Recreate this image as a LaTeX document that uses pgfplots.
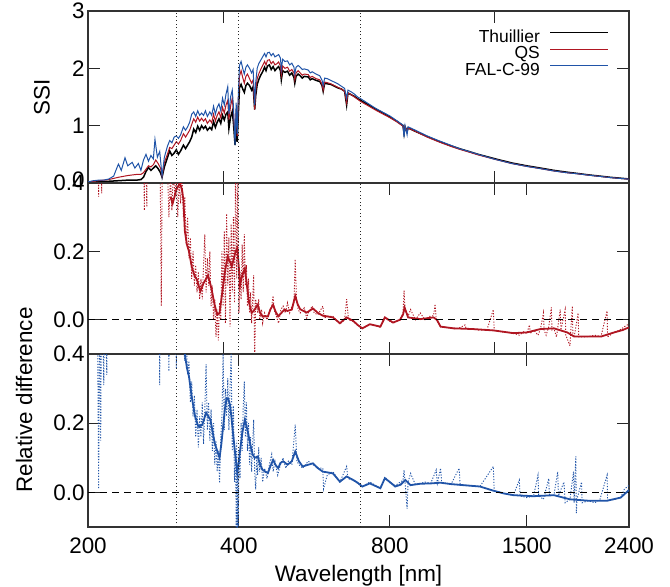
\documentclass[border=0pt]{standalone}
\usepackage{fontspec}
\setmainfont{Liberation Sans}
\usepackage{pgfplots}
\pgfplotsset{compat=1.18}
\usepackage{pgfplotstable}

\definecolor{qsred}{RGB}{176,22,34}
\definecolor{falblue}{RGB}{32,84,168}

% SSI spectra (wavelength in nm, SSI)
\pgfplotstableread{
nm ssi
200 0.01
210 0.02
220 0.03
230 0.04
240 0.05
250 0.05
255 0.06
258 0.10
261 0.20
264 0.27
267 0.22
270 0.26
273 0.30
276 0.25
279 0.18
281 0.10
284 0.28
288 0.44
291 0.56
294 0.48
297 0.52
300 0.58
303 0.50
306 0.56
310 0.66
313 0.60
316 0.66
319 0.72
322 0.80
325 0.94
328 0.88
331 0.99
334 0.92
337 1.00
340 0.95
343 0.99
346 0.92
350 0.97
353 0.93
356 1.07
359 0.97
362 1.06
365 1.12
368 1.04
371 1.18
374 1.10
377 1.20
380 1.24
382 0.95
385 1.15
388 1.25
390 1.05
393 0.66
395 1.05
397 0.72
399 1.20
401 1.66
404 1.72
407 1.64
410 1.58
413 1.70
416 1.74
420 1.70
424 1.62
427 1.68
430 1.28
432 1.52
435 1.72
438 1.80
442 1.88
446 1.94
450 2.02
453 1.96
456 2.04
460 2.06
464 1.98
468 2.03
472 1.96
476 2.00
480 2.03
484 1.96
486 1.80
489 1.96
494 1.93
500 1.95
505 1.88
510 1.92
515 1.84
517 1.74
520 1.86
525 1.90
530 1.87
535 1.83
540 1.86
550 1.85
555 1.80
560 1.82
570 1.79
580 1.77
586 1.70
589 1.60
593 1.74
600 1.73
610 1.72
620 1.69
630 1.66
640 1.64
650 1.60
656 1.36
660 1.57
670 1.54
680 1.51
690 1.47
700 1.44
720 1.38
750 1.29
780 1.21
800 1.15
825 1.08
850 1.00
854 0.86
858 0.98
866 0.90
870 0.96
900 0.90
950 0.81
1000 0.73
1050 0.66
1100 0.60
1150 0.55
1200 0.50
1300 0.42
1400 0.35
1500 0.30
1600 0.26
1700 0.22
1800 0.19
1900 0.165
2000 0.14
2100 0.12
2200 0.10
2300 0.085
2400 0.07
}\thuillier

\pgfplotstableread{
nm ssi
200 0.02
210 0.04
220 0.06
230 0.10
240 0.13
250 0.15
255 0.15
258 0.18
261 0.24
264 0.30
267 0.28
270 0.32
273 0.40
276 0.34
279 0.26
281 0.12
284 0.36
288 0.50
291 0.62
294 0.60
297 0.66
300 0.72
303 0.68
306 0.74
310 0.86
313 0.80
316 0.86
319 0.92
322 1.02
325 1.12
328 1.06
331 1.15
334 1.08
337 1.13
340 1.08
343 1.12
346 1.04
350 1.10
353 1.05
356 1.20
359 1.08
362 1.18
365 1.24
368 1.14
371 1.32
374 1.22
377 1.36
380 1.44
382 1.10
385 1.34
388 1.48
390 1.22
393 0.76
395 1.30
397 0.82
399 1.45
401 1.86
404 1.96
407 1.84
410 1.74
413 1.86
416 1.90
420 1.82
424 1.74
427 1.80
430 1.28
432 1.60
435 1.82
438 1.90
442 1.98
446 2.05
450 2.12
453 2.06
456 2.14
460 2.15
464 2.08
468 2.12
472 2.06
476 2.08
480 2.11
484 2.04
486 1.88
489 2.04
494 2.00
500 2.02
505 1.95
510 1.98
515 1.92
517 1.80
520 1.92
525 1.96
530 1.92
535 1.88
540 1.90
550 1.89
555 1.84
560 1.86
570 1.82
580 1.80
586 1.72
589 1.62
593 1.76
600 1.75
610 1.73
620 1.70
630 1.67
640 1.64
650 1.60
656 1.40
660 1.57
670 1.54
680 1.50
690 1.46
700 1.42
720 1.36
750 1.27
780 1.19
800 1.14
825 1.07
850 0.99
854 0.88
858 0.98
866 0.90
870 0.96
900 0.90
950 0.80
1000 0.72
1050 0.65
1100 0.59
1150 0.54
1200 0.49
1300 0.41
1400 0.34
1500 0.29
1600 0.25
1700 0.21
1800 0.18
1900 0.16
2000 0.135
2100 0.115
2200 0.095
2300 0.08
2400 0.068
}\qs

\pgfplotstableread{
nm ssi
200 0.02
205 0.04
210 0.05
215 0.05
220 0.07
225 0.12
228 0.25
230 0.33
233 0.22
237 0.44
240 0.30
245 0.36
248 0.26
252 0.34
255 0.22
258 0.40
261 0.50
264 0.38
267 0.48
270 0.42
272 0.76
275 0.45
278 0.55
281 0.12
284 0.45
288 0.64
291 0.74
294 0.70
297 0.80
300 0.82
303 0.78
306 0.84
310 0.98
313 0.92
316 0.98
319 1.06
322 1.20
325 1.24
328 1.16
331 1.26
334 1.18
337 1.22
340 1.18
343 1.26
346 1.16
350 1.24
353 1.18
356 1.34
359 1.20
362 1.32
365 1.38
368 1.26
371 1.48
374 1.36
377 1.55
380 1.68
382 1.20
385 1.50
388 1.62
390 1.35
393 0.66
395 1.40
397 0.86
399 1.55
401 2.05
404 2.12
407 2.00
410 1.90
413 2.02
416 2.06
420 2.00
424 1.92
427 1.98
430 1.36
432 1.75
435 2.00
438 2.08
442 2.14
446 2.20
450 2.26
453 2.20
456 2.27
460 2.28
464 2.22
468 2.26
472 2.20
476 2.22
480 2.24
484 2.18
486 1.98
489 2.16
494 2.12
500 2.13
505 2.06
510 2.09
515 2.02
517 1.90
520 2.02
525 2.05
530 2.02
535 1.98
540 1.99
550 1.97
555 1.92
560 1.94
570 1.90
580 1.87
586 1.79
589 1.70
593 1.83
600 1.82
610 1.79
620 1.76
630 1.73
640 1.69
650 1.65
656 1.48
660 1.62
670 1.59
680 1.55
690 1.50
700 1.47
720 1.40
750 1.30
780 1.22
800 1.17
825 1.09
850 1.01
854 0.80
858 1.00
866 0.84
870 0.98
900 0.92
950 0.82
1000 0.74
1050 0.67
1100 0.60
1150 0.55
1200 0.50
1300 0.41
1400 0.34
1500 0.29
1600 0.25
1700 0.21
1800 0.18
1900 0.16
2000 0.135
2100 0.115
2200 0.095
2300 0.08
2400 0.068
}\falc

% relative differences, QS: raw and smoothed
\pgfplotstableread{
nm rd
200 0.8
208 0.7
210 0.36
211 0.8
213 0.37
214 0.9
240 1.0
258 0.6
259 0.32
260 0.6
262 0.33
263 0.6
278 0.6
280 0.04
282 0.7
288 0.45
290 0.30
292 0.42
294 0.32
296 0.44
298 0.36
300 0.42
302 0.30
304 0.40
306 0.34
308 0.42
310 0.30
312 0.36
314 0.22
316 0.30
318 0.18
320 0.24
322 0.12
324 0.20
326 0.10
328 0.16
330 0.08
332 0.14
334 0.06
336 0.12
338 0.06
340 0.16
342 0.25
344 0.08
346 0.18
348 0.10
350 0.20
352 0.04
354 0.10
356 0.00
358 0.06
360 -0.05
362 0.03
364 -0.06
366 0.05
368 0.00
370 0.20
372 0.04
374 0.26
376 -0.01
378 0.31
380 0.10
382 0.24
384 -0.02
386 0.28
388 0.08
390 0.30
392 0.05
394 0.45
396 0.12
398 0.40
400 0.02
402 0.14
404 0.06
406 0.22
408 0.08
410 0.25
412 0.10
414 0.16
416 0.04
418 0.12
420 0.02
422 0.08
424 -0.01
426 0.06
428 0.13
430 -0.12
432 0.06
436 0.02
438 0.06
440 0.00
444 0.03
446 -0.01
450 0.02
455 0.00
460 0.02
465 0.04
468 0.07
470 0.03
475 0.01
480 -0.01
485 0.03
490 0.04
495 0.02
500 0.05
505 0.02
510 0.04
515 0.05
518 0.177
521 0.06
525 0.03
530 0.02
540 0.035
546 0.005
550 0.02
560 0.04
565 0.02
575 0.015
588 0.04
592 0.005
600 0.01
616 0.01
636 -0.012
650 0.00
656 0.06
662 0.00
676 -0.005
690 -0.015
705 -0.025
730 -0.012
766 -0.022
782 0.005
812 -0.01
838 0.00
850 0.02
854 0.085
858 0.03
870 0.01
880 0.03
900 0.00
920 0.02
940 0.00
960 0.01
978 0.012
985 0.046
990 0.0
1010 -0.02
1040 -0.022
1073 -0.026
1100 -0.024
1130 -0.015
1135 -0.025
1170 -0.027
1200 -0.03
1250 -0.029
1287 0.03
1292 -0.031
1350 -0.036
1411 -0.039
1450 -0.045
1480 -0.035
1500 -0.04
1520 -0.015
1525 -0.04
1550 -0.03
1580 -0.045
1598 -0.027
1620 0.02
1625 -0.03
1640 -0.045
1660 -0.02
1680 0.036
1685 -0.03
1700 -0.025
1720 -0.05
1750 0.03
1755 -0.03
1790 0.03
1795 -0.045
1830 -0.076
1835 -0.04
1850 0.04
1855 -0.05
1866 -0.049
1900 0.02
1905 -0.05
1950 -0.05
1990 -0.049
2050 -0.045
2110 -0.049
2170 0.026
2175 -0.05
2240 -0.037
2300 -0.03
2350 -0.02
2400 -0.012
}\qsraw

\pgfplotstableread{
nm rd
292 0.36
295 0.34
300 0.38
305 0.40
308 0.38
310 0.35
312 0.26
315 0.22
318 0.20
322 0.156
326 0.13
330 0.117
335 0.083
340 0.107
344 0.12
347 0.13
350 0.11
353 0.088
357 0.05
362 0.015
366 0.02
369 0.06
372 0.10
376 0.15
380 0.185
384 0.17
387 0.156
391 0.18
394 0.20
397 0.21
400 0.15
402 0.10
406 0.13
411 0.15
415 0.10
419 0.05
424 0.02
430 0.03
436 0.044
441 0.02
446 0.01
452 0.01
457 0.01
462 0.03
468 0.044
473 0.025
479 0.01
486 0.02
493 0.03
500 0.026
510 0.03
518 0.07
524 0.045
530 0.031
546 0.021
562 0.033
575 0.02
588 0.012
600 0.01
616 0.007
636 -0.01
656 0.007
676 -0.003
690 -0.015
705 -0.025
730 -0.013
766 -0.02
782 0.007
812 -0.008
838 0.0
850 0.015
856 0.036
870 0.007
920 0.002
978 0.007
993 0.0
1010 -0.02
1073 -0.025
1170 -0.027
1287 -0.031
1411 -0.039
1500 -0.037
1598 -0.027
1700 -0.025
1808 -0.037
1866 -0.049
1990 -0.049
2110 -0.049
2240 -0.037
2330 -0.03
2400 -0.022
}\qssmooth

% relative differences, FAL-C-99: raw and smoothed
\pgfplotstableread{
nm rd
200 0.8
208 0.9
210 0.01
211 0.6
212 0.15
213 0.7
215 0.31
216 0.6
218 0.34
219 0.9
240 1.0
276 0.8
278 0.31
279 0.8
288 0.6
290 0.35
291 0.6
298 0.7
300 0.36
302 0.6
306 0.5
310 0.42
312 0.38
314 0.44
316 0.34
318 0.38
320 0.26
322 0.32
324 0.22
326 0.28
328 0.16
330 0.24
332 0.13
334 0.22
336 0.16
338 0.26
340 0.14
342 0.24
344 0.37
346 0.18
348 0.26
350 0.15
352 0.24
354 0.12
356 0.20
358 0.08
360 0.15
362 0.06
364 0.12
366 0.027
368 0.16
370 0.22
372 0.40
374 0.18
376 0.30
378 0.22
380 0.33
382 0.18
384 0.30
386 0.40
388 0.12
390 0.25
392 0.03
394 0.12
395 -0.10
396 0.15
397 -0.12
398 0.08
399 -0.10
400 0.12
402 0.04
404 0.20
406 0.12
408 0.25
410 0.32
412 0.16
414 0.26
416 0.12
418 0.20
420 0.08
422 0.16
424 0.06
426 0.14
428 0.21
430 0.06
432 0.008
434 0.10
436 0.05
438 0.13
440 0.06
443 0.10
446 0.03
450 0.07
455 0.04
460 0.08
465 0.11
468 0.06
472 0.09
478 0.05
484 0.08
490 0.10
496 0.07
502 0.09
510 0.08
518 0.196
522 0.09
527 0.08
536 0.07
550 0.09
562 0.08
575 0.07
588 0.07
590 0.01
600 0.05
616 0.06
636 0.03
656 0.075
660 0.04
676 0.035
705 0.017
730 0.03
766 0.012
782 0.045
800 0.028
820 0.02
850 0.035
854 0.065
858 0.03
866 -0.047
870 0.03
880 0.055
900 0.022
940 0.03
965 0.026
990 0.065
995 0.026
1010 0.07
1015 0.028
1060 0.024
1100 0.07
1105 0.021
1150 0.02
1210 0.017
1287 0.075
1292 0.005
1350 -0.003
1411 -0.008
1450 0.036
1455 -0.01
1500 -0.015
1548 -0.011
1580 0.05
1585 -0.01
1620 -0.02
1660 0.04
1665 -0.01
1700 -0.008
1730 0.06
1735 -0.01
1780 0.03
1790 -0.03
1830 -0.02
1860 0.06
1865 -0.03
1880 0.104
1884 -0.06
1890 -0.02
1930 0.03
1935 -0.03
1990 -0.024
2050 -0.03
2100 -0.02
2170 0.05
2175 -0.024
2250 -0.02
2310 -0.015
2350 0.01
2400 0.02
}\falraw

\pgfplotstableread{
nm rd
312 0.40
315 0.36
318 0.335
322 0.277
327 0.22
332 0.19
338 0.195
344 0.23
351 0.21
355 0.17
358 0.142
362 0.12
366 0.10
369 0.14
372 0.19
375 0.24
378 0.272
381 0.27
384 0.253
387 0.21
390 0.16
394 0.10
397 0.056
400 0.09
402 0.12
406 0.17
411 0.21
416 0.18
421 0.142
426 0.11
430 0.10
436 0.104
441 0.08
446 0.065
452 0.06
457 0.056
462 0.075
468 0.094
473 0.08
479 0.07
484 0.085
490 0.09
500 0.08
510 0.09
518 0.118
527 0.09
536 0.075
550 0.08
562 0.084
575 0.07
588 0.06
600 0.058
616 0.055
636 0.031
656 0.046
676 0.036
690 0.028
705 0.017
730 0.026
766 0.012
782 0.041
800 0.03
820 0.017
840 0.022
859 0.036
880 0.021
920 0.025
965 0.026
1010 0.028
1060 0.024
1120 0.021
1210 0.017
1287 0.005
1350 -0.003
1411 -0.008
1548 -0.011
1700 -0.008
1830 -0.02
1990 -0.024
2170 -0.024
2310 -0.015
2400 0.007
}\falsmooth

\tikzset{
  vline/.style={black!85, line width=0.9bp, dash pattern=on 1bp off 2.6bp},
  zline/.style={black, line width=0.9bp, dash pattern=on 7bp off 5bp},
  rawline/.style={line width=0.9bp, dash pattern=on 1.2bp off 1.6bp},
  smoothline/.style={line width=1.8bp},
}
\newcommand\bigfont{\fontsize{22.5}{27}\selectfont}
\newcommand\legfont{\fontsize{17.5}{17.5}\selectfont}

\begin{document}
\begin{tikzpicture}
\useasboundingbox (-88bp,11bp) rectangle (582bp,-576bp);

% top panel: SSI
\begin{axis}[at={(0bp,0bp)}, anchor=north west,
    width=541bp, height=172bp, scale only axis,
    xmode=log, xmin=200, xmax=2400,
    xtick={372,1295}, xticklabels={},
    ymin=0, ymax=3, ytick={0,1,2,3},
    yticklabels={\raisebox{7bp}{0},1,2,3},
    axis line style={black!80, line width=1.2bp},
    tick style={black!85, line width=1bp},
    major tick length=12bp,
    tick label style={font=\bigfont},
    legend style={draw=none, fill=none, at={(1,1)}, anchor=north east,
      xshift=-17bp, yshift=-16bp, legend cell align=right,
      legend plot pos=right, column sep=10bp, row sep=0bp,
      font=\legfont,
      nodes={inner sep=0bp, text height=13bp, text depth=3.5bp, font=\legfont}},
    legend image code/.code={\draw[#1, line width=1bp] (0bp,4.5bp) -- (58bp,4.5bp);},
  ]
  \addplot[black, line width=1.5bp] table[x=nm, y=ssi] {\thuillier};
  \addplot[qsred, line width=1bp] table[x=nm, y=ssi] {\qs};
  \addplot[falblue, line width=1bp] table[x=nm, y=ssi] {\falc};
  \legend{Thuillier, QS, FAL-C-99}
  \pgfplotsinvokeforeach{300,400,700}{
    \draw[vline] ({axis cs:#1,0}|-{rel axis cs:0,0}) -- ({axis cs:#1,0}|-{rel axis cs:0,1});
  }
\end{axis}

% middle panel: QS relative difference
\begin{axis}[at={(0bp,-172bp)}, anchor=north west,
    width=541bp, height=171bp, scale only axis,
    xmode=log, xmin=200, xmax=2400,
    xtick={372,800,1295,1500}, xticklabels={},
    ymin=-0.1, ymax=0.4, ytick={0,0.2,0.4},
    yticklabels={0.0,0.2,\raisebox{-4bp}{0.4}},
    axis line style={black!80, line width=1.2bp},
    tick style={black!85, line width=1bp},
    major tick length=12bp,
    tick label style={font=\bigfont},
  ]
  \addplot[qsred, rawline] table[x=nm, y=rd] {\qsraw};
  \addplot[qsred, smoothline] table[x=nm, y=rd] {\qssmooth};
  \draw[zline] ({rel axis cs:0,0}|-{axis cs:300,0}) -- ({rel axis cs:1,0}|-{axis cs:300,0});
  \pgfplotsinvokeforeach{300,400,700}{
    \draw[vline] ({axis cs:#1,0}|-{rel axis cs:0,0}) -- ({axis cs:#1,0}|-{rel axis cs:0,1});
  }
\end{axis}

% bottom panel: FAL-C-99 relative difference
\begin{axis}[at={(0bp,-343bp)}, anchor=north west,
    width=541bp, height=173bp, scale only axis,
    xmode=log, xmin=200, xmax=2400,
    xtick={200,400,800,1500,2400}, xticklabels={200,400,800,1500,2400},
    xticklabel style={yshift=-7bp},
    ymin=-0.1, ymax=0.4, ytick={0,0.2,0.4}, yticklabels={0.0,0.2,0.4},
    axis line style={black!80, line width=1.2bp},
    tick style={black!85, line width=1bp},
    major tick length=12bp,
    tick label style={font=\bigfont},
  ]
  \addplot[falblue, rawline] table[x=nm, y=rd] {\falraw};
  \addplot[falblue, smoothline] table[x=nm, y=rd] {\falsmooth};
  \draw[zline] ({rel axis cs:0,0}|-{axis cs:300,0}) -- ({rel axis cs:1,0}|-{axis cs:300,0});
  \pgfplotsinvokeforeach{300,400,700}{
    \draw[vline] ({axis cs:#1,0}|-{rel axis cs:0,0}) -- ({axis cs:#1,0}|-{rel axis cs:0,1});
  }
\end{axis}

\node[rotate=90, font=\bigfont] at (-46bp,-86bp) {SSI};
\node[rotate=90, font=\bigfont] at (-64bp,-389bp) {Relative difference};
\node[anchor=base, font=\bigfont] at (270.5bp,-570bp) {Wavelength [nm]};
\end{tikzpicture}
\end{document}
